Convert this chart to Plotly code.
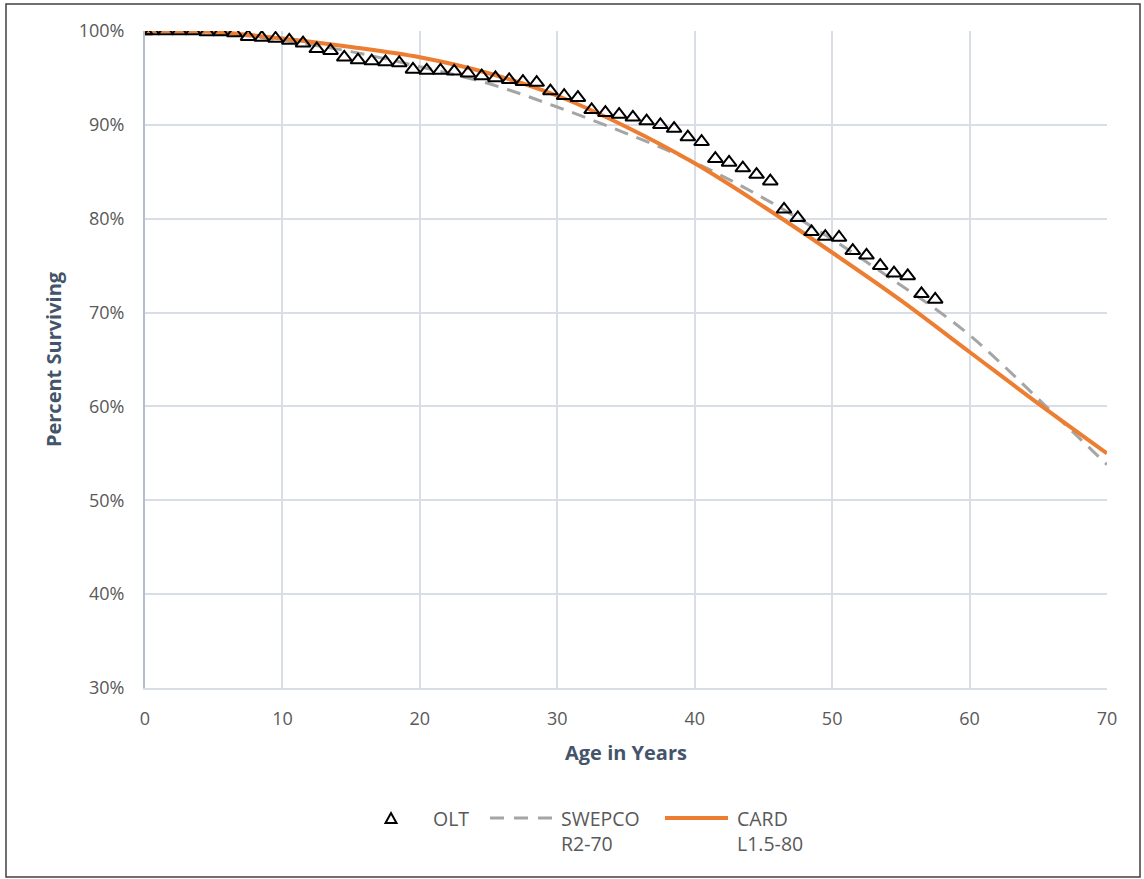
import plotly.graph_objects as go

# ---------------- data ----------------
olt_age = [0, 0.5, 1.5, 2.5, 3.5, 4.5, 5.5, 6.5, 7.5, 8.5, 9.5, 10.5, 11.5, 12.5, 13.5,
           14.5, 15.5, 16.5, 17.5, 18.5, 19.5, 20.5, 21.5, 22.5, 23.5, 24.5, 25.5, 26.5,
           27.5, 28.5, 29.5, 30.5, 31.5, 32.5, 33.5, 34.5, 35.5, 36.5, 37.5, 38.5, 39.5,
           40.5, 41.5, 42.5, 43.5, 44.5, 45.5, 46.5, 47.5, 48.5, 49.5, 50.5, 51.5, 52.5,
           53.5, 54.5, 55.5, 56.5, 57.5]
olt_pct = [100, 100, 100, 100, 100, 99.9, 99.9, 99.8, 99.4, 99.3, 99.2, 99.0, 98.7, 98.1,
           97.9, 97.2, 96.9, 96.8, 96.7, 96.6, 95.9, 95.8, 95.8, 95.7, 95.5, 95.2, 95.0,
           94.8, 94.6, 94.5, 93.6, 93.1, 92.9, 91.6, 91.3, 91.1, 90.8, 90.4, 90.0, 89.6,
           88.7, 88.2, 86.4, 86.0, 85.4, 84.7, 84.0, 81.0, 80.1, 78.6, 78.1, 78.0, 76.6,
           76.1, 75.0, 74.2, 73.9, 72.0, 71.4]

swepco_age = [0, 5, 10, 15, 20, 25, 30, 35, 40, 45, 50, 55, 57.5, 60, 62.5, 65, 67.5, 70]
swepco_pct = [100, 99.8, 99.0, 97.8, 96.2, 94.4, 91.9, 89.1, 86.0, 82.2, 77.8, 72.9, 70.4,
              67.6, 64.3, 60.8, 57.3, 53.8]
card_age = [0, 5, 10, 15, 20, 25, 30, 35, 40, 45, 50, 55, 60, 65, 70]
card_pct = [100, 99.9, 99.2, 98.3, 97.2, 95.5, 93.1, 89.8, 85.9, 81.3, 76.4, 71.3, 65.8, 60.3, 55.0]

x_ticks = [0, 10, 20, 30, 40, 50, 60, 70]
y_ticks = [30, 40, 50, 60, 70, 80, 90, 100]

# ---------------- style ----------------
FONT = "Open Sans"
TICK_COLOR = "#595959"
TITLE_COLOR = "#44546A"
GRID = "#D9DDE6"
ORANGE = "#ED7D31"
GRAY = "#A5A5A5"

W, H = 1144, 879
L, R, T, B = 145, 1107, 31, 688  # plot area in pixels


def px(x):
    return (x - L) / (R - L)


def py(y):
    return (B - y) / (B - T)


fig = go.Figure()
fig.add_trace(go.Scatter(x=swepco_age, y=swepco_pct, mode="lines", name="SWEPCO R2-70",
                         line=dict(color=GRAY, width=3, dash="14px,9px", shape="spline")))
fig.add_trace(go.Scatter(x=card_age, y=card_pct, mode="lines", name="CARD L1.5-80",
                         line=dict(color=ORANGE, width=4, shape="spline")))
fig.add_trace(go.Scatter(x=olt_age, y=olt_pct, mode="markers", name="OLT",
                         marker=dict(symbol="triangle-up-open", size=13, color="black",
                                     line=dict(color="black", width=2))))

shapes = [
    # outer border
    dict(type="rect", xref="paper", yref="paper", x0=px(6), x1=px(1140), y0=py(877), y1=py(4),
         line=dict(color="#404040", width=1.5), layer="below"),
    # legend: triangle
    dict(type="path", xref="paper", yref="paper",
         path=f"M {px(385.5)},{py(823)} L {px(396.5)},{py(823)} L {px(391)},{py(813)} Z",
         line=dict(color="black", width=2)),
    # legend: dashed gray
    dict(type="line", xref="paper", yref="paper", x0=px(490), x1=px(552), y0=py(818), y1=py(818),
         line=dict(color=GRAY, width=3, dash="14px,10px")),
    # legend: orange
    dict(type="line", xref="paper", yref="paper", x0=px(665), x1=px(728), y0=py(818), y1=py(818),
         line=dict(color=ORANGE, width=4)),
]

legend_font = dict(family=FONT, size=19.5, color=TICK_COLOR)
annotations = []
for text, x, y in [("OLT", 431, 818), ("SWEPCO", 559, 818), ("R2-70", 559, 843),
                   ("CARD", 735, 818), ("L1.5-80", 735, 843)]:
    annotations.append(dict(text=text, x=px(x), y=py(y), xref="paper", yref="paper",
                            xanchor="left", yanchor="middle", showarrow=False, font=legend_font))

fig.update_layout(
    width=W, height=H,
    margin=dict(l=L, r=W - R, t=T, b=H - B, pad=0),
    paper_bgcolor="white", plot_bgcolor="white",
    showlegend=False,
    shapes=shapes,
    annotations=annotations,
    font=dict(family=FONT, size=18, color=TICK_COLOR),
)
fig.update_xaxes(
    range=[0, 70], tickvals=x_ticks, ticktext=[str(v) for v in x_ticks],
    showgrid=True, gridcolor=GRID, gridwidth=1.5, zeroline=False,
    showline=True, linecolor=GRID, linewidth=1.5, mirror=False,
    ticks="", ticklabelstandoff=14,
    tickfont=dict(family=FONT, size=18, color=TICK_COLOR),
    title=dict(text="<b>Age in Years</b>", font=dict(family=FONT, size=20, color=TITLE_COLOR), standoff=17),
    automargin=False,
)
fig.update_yaxes(
    range=[30, 100], tickvals=y_ticks, ticktext=[f"{v}%" for v in y_ticks],
    showgrid=True, gridcolor=GRID, gridwidth=1.5, zeroline=False,
    showline=True, linecolor="#B4BECE", linewidth=2,
    ticks="", ticklabelstandoff=15,
    tickfont=dict(family=FONT, size=18, color=TICK_COLOR),
    title=dict(text="<b>Percent Surviving</b>", font=dict(family=FONT, size=20, color=TITLE_COLOR), standoff=12),
    automargin=False,
)

fig.write_html("out.html")
